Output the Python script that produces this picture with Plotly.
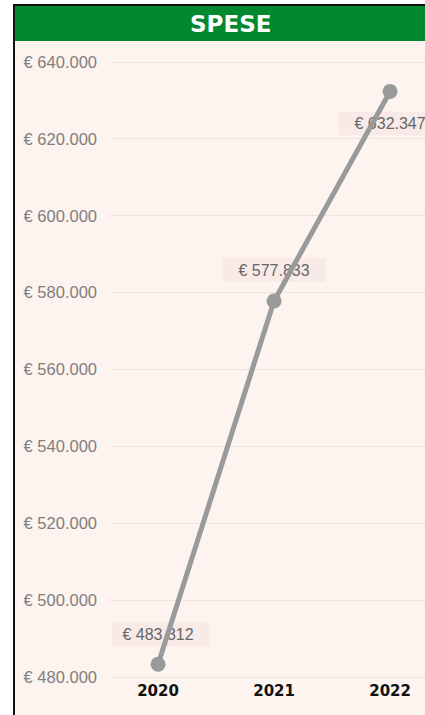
import plotly.graph_objects as go

# ---- data ----
years = ["2020", "2021", "2022"]
spese = [483312, 577833, 632347]
y_ticks = [480000, 500000, 520000, 540000, 560000, 580000, 600000, 620000, 640000]
label_shift = [30, 31, -32]
title_text = "SPESE"

W, H = 425, 715
L, R, T, B = 112, 0, 45, 35  # plot area: x 112..425, y 45..680
Y_RANGE = [479220, 644423]
PLOT_H = H - T - B
UPP = (Y_RANGE[1] - Y_RANGE[0]) / PLOT_H  # data units per pixel


def fmt(v):
    return "€ " + f"{v:,}".replace(",", ".")


def px_x(px):
    return (px - L) / (W - L - R)


def px_y(py):
    return (H - B - py) / (H - T - B)


fig = go.Figure()
# labels (drawn first so the line passes over them)
fig.add_trace(go.Scatter(
    x=years, y=[v + (s - 2) * UPP for v, s in zip(spese, label_shift)],
    mode="text", text=[fmt(v) for v in spese], textposition="middle center",
    textfont=dict(family="Liberation Sans, Arial", size=16, color="#666666"),
    hoverinfo="skip", showlegend=False, cliponaxis=False,
))
fig.add_trace(go.Scatter(
    x=years, y=spese, mode="lines+markers",
    line=dict(color="#9A9A9A", width=5),
    marker=dict(color="#9A9A9A", size=15),
    hoverinfo="skip", showlegend=False, cliponaxis=False,
))

annotations = [dict(
    x=px_x(230), y=px_y(24), xref="paper", yref="paper", text="<b>" + title_text + "</b>",
    showarrow=False, xanchor="center", yanchor="middle",
    font=dict(family="DejaVu Sans", size=23, color="white"),
)]

shapes = [
    dict(type="rect", xref="paper", yref="paper", layer="below",
         x0=px_x(14), x1=px_x(440), y0=px_y(730), y1=px_y(5),
         fillcolor="#FDF3EF", line=dict(color="#111111", width=2)),
    dict(type="rect", xref="paper", yref="paper", layer="below",
         x0=px_x(15), x1=px_x(440), y0=px_y(41), y1=px_y(6),
         fillcolor="#02892F", line=dict(width=0)),
]
for i, (v, s) in enumerate(zip(spese, label_shift)):
    shapes.append(dict(
        type="rect", xref="x", yref="y", layer="below",
        x0=i - 0.445, x1=i + 0.445,
        y0=v + (s - 12) * UPP, y1=v + (s + 12) * UPP,
        fillcolor="#F8EBE7", line=dict(width=0),
    ))

fig.update_layout(
    width=W, height=H,
    margin=dict(l=L, r=R, t=T, b=B, pad=0),
    paper_bgcolor="white", plot_bgcolor="rgba(0,0,0,0)",
    annotations=annotations, shapes=shapes,
    xaxis=dict(
        type="category", range=[-0.397, 2.301], showgrid=False, zeroline=False,
        showline=False, ticks="", fixedrange=True,
        tickfont=dict(family="DejaVu Sans", size=15, color="#111111"),
        tickprefix="<b>", ticksuffix="</b>",
    ),
    yaxis=dict(
        range=Y_RANGE, tickvals=y_ticks, ticktext=[fmt(t) for t in y_ticks],
        showgrid=True, gridcolor="#F0E3DF", gridwidth=1, zeroline=False,
        showline=False, ticks="", ticklabelstandoff=14, fixedrange=True,
        tickfont=dict(family="Liberation Sans, Arial", size=16.5, color="#7F7F7F"),
    ),
)

fig.write_html("out.html", config={"displayModeBar": False},
               post_script="document.body.style.margin='0';")
